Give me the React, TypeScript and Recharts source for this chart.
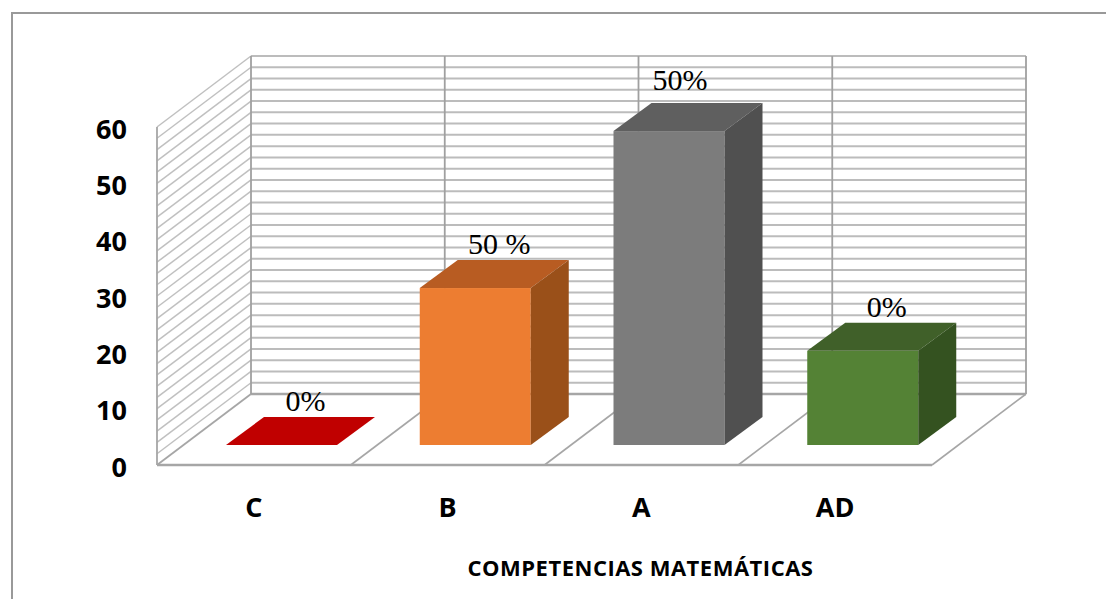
import React from 'react';
import { Bar, ComposedChart, LabelList, Line, XAxis, YAxis } from 'recharts';

const categories = ['C', 'B', 'A', 'AD'];
const values = [0, 30, 60, 18];
const barLabels = ['0%', '50 %', '50%', '0%'];
const yTicks = [0, 10, 20, 30, 40, 50, 60];

const frontColors = ['#C00000', '#ED7D31', '#7C7C7C', '#548235'];
const topColors = ['#C00000', '#B85C22', '#5F5F5F', '#406029'];
const sideColors = ['#C00000', '#9A5019', '#505050', '#345220'];

const chartData = categories.map((name, i) => ({ name, value: values[i], label: barLabels[i] }));

// caja 3D: pared trasera desplazada respecto al plano frontal
const PLOT = { left: 157, right: 932, top: 127, bottom: 465 };
const WALL_DX = 94;
const WALL_DY = -71;
const BAR_DX = 38;
const BAR_DY = -28;
const BAR_SHIFT_X = 28;
const BAR_SHIFT_Y = -20;
const GRID_STEP = 2;
const AXIS_MAX = 60;

const frontY = (v: number) =>
  PLOT.bottom - (v / AXIS_MAX) * (PLOT.bottom - PLOT.top);

const Walls = () => {
  const bandWidth = (PLOT.right - PLOT.left) / categories.length;
  const steps = Array.from({ length: AXIS_MAX / GRID_STEP + 1 }, (_, i) => i * GRID_STEP);
  const backLeft = PLOT.left + WALL_DX;
  const backRight = PLOT.right + WALL_DX;
  return (
    <g>
      {steps.map(v => (
        <g key={v}>
          <line
            x1={PLOT.left}
            y1={frontY(v)}
            x2={backLeft}
            y2={frontY(v) + WALL_DY}
            stroke={v === 0 ? '#a6a6a6' : '#c0c0c0'}
            strokeWidth={v === 0 ? 1.8 : 1.5}
          />
          <line
            x1={backLeft}
            y1={frontY(v) + WALL_DY}
            x2={backRight}
            y2={frontY(v) + WALL_DY}
            stroke={v === 0 ? '#a6a6a6' : '#bcbcbc'}
            strokeWidth={v === 0 ? 2.6 : 2}
          />
        </g>
      ))}
      {categories.concat('end').map((c, i) => (
        <g key={c}>
          <line
            x1={backLeft + i * bandWidth}
            y1={frontY(AXIS_MAX) + WALL_DY}
            x2={backLeft + i * bandWidth}
            y2={PLOT.bottom + WALL_DY}
            stroke="#a0a0a0"
            strokeWidth={1.8}
          />
          {i > 0 && (
            <line
              x1={PLOT.left + i * bandWidth}
              y1={PLOT.bottom}
              x2={backLeft + i * bandWidth}
              y2={PLOT.bottom + WALL_DY}
              stroke="#a6a6a6"
              strokeWidth={1.6}
            />
          )}
        </g>
      ))}
    </g>
  );
};

const Bar3D = (props: any) => {
  const { x, y, width, height, index } = props;
  const left = x + BAR_SHIFT_X;
  const right = left + width;
  const top = y + BAR_SHIFT_Y;
  const base = top + height;
  const poly = (pts: number[][]) => pts.map(p => p.join(',')).join(' ');
  return (
    <g>
      {height > 0 && <rect x={left} y={top} width={width} height={height} fill={frontColors[index]} />}
      <polygon
        points={poly([
          [left, top],
          [left + BAR_DX, top + BAR_DY],
          [right + BAR_DX, top + BAR_DY],
          [right, top],
        ])}
        fill={topColors[index]}
      />
      {height > 0 && (
        <polygon
          points={poly([
            [right, top],
            [right + BAR_DX, top + BAR_DY],
            [right + BAR_DX, base + BAR_DY],
            [right, base],
          ])}
          fill={sideColors[index]}
        />
      )}
    </g>
  );
};

const BarLabel = (props: any) => {
  const { x, y, width, value } = props;
  // la etiqueta de la barra A esta mas cerca de la esquina
  const isTall = value === '50%';
  return (
    <text
      x={x + width / 2 + BAR_SHIFT_X + (isTall ? 11 : 24)}
      y={y + BAR_SHIFT_Y + (isTall ? -41 : -34)}
      textAnchor="middle"
      fontFamily='"Liberation Serif"'
      fontSize={30}
      fill="#000"
    >
      {value}
    </text>
  );
};

export default function App() {
  return (
    <div style={{ position: 'absolute', left: 0, top: 0, width: 1106, height: 599, overflow: 'hidden', background: '#fff' }}>
      <div style={{ position: 'absolute', left: 11, top: 12, width: 1200, height: 700, border: '2px solid #999', boxSizing: 'border-box' }} />
      <ComposedChart
        width={1106}
        height={599}
        data={chartData}
        barSize={111}
        margin={{ top: 127, right: 174, bottom: 0, left: 0 }}
        style={{ position: 'absolute', left: 0, top: 0 }}
      >
        <Walls />
        <XAxis
          dataKey="name"
          height={134}
          axisLine={{ stroke: '#a6a6a6', strokeWidth: 2.6 }}
          tickLine={false}
          tickSize={0}
          tickMargin={33}
          tick={{ fontFamily: '"Open Sans"', fontWeight: 700, fontSize: 27, fill: '#000' }}
          label={{
            value: 'COMPETENCIAS MATEMÁTICAS',
            position: 'insideBottom',
            offset: 23,
            dx: 96,
            style: { fontFamily: '"Open Sans"', fontWeight: 700, fontSize: 22, letterSpacing: 0.5, fill: '#000' },
          }}
        />
        <YAxis
          yAxisId="ticks"
          width={157}
          domain={[0, AXIS_MAX]}
          ticks={yTicks}
          interval={0}
          axisLine={{ stroke: '#a6a6a6', strokeWidth: 1.8 }}
          tickLine={false}
          tickSize={0}
          tickMargin={30}
          tick={{ fontFamily: '"Open Sans"', fontWeight: 700, fontSize: 27, fill: '#000', dy: 2 }}
        />
        <YAxis yAxisId="bars" orientation="right" hide width={0} domain={[0, 64.6]} />
        {/* linea invisible: solo para que el eje de la izquierda tenga una serie */}
        <Line yAxisId="ticks" dataKey="value" stroke="none" dot={false} legendType="none" isAnimationActive={false} />
        <Bar yAxisId="bars" dataKey="value" shape={<Bar3D />} isAnimationActive={false}>
          <LabelList dataKey="label" content={<BarLabel />} />
        </Bar>
      </ComposedChart>
    </div>
  );
}
